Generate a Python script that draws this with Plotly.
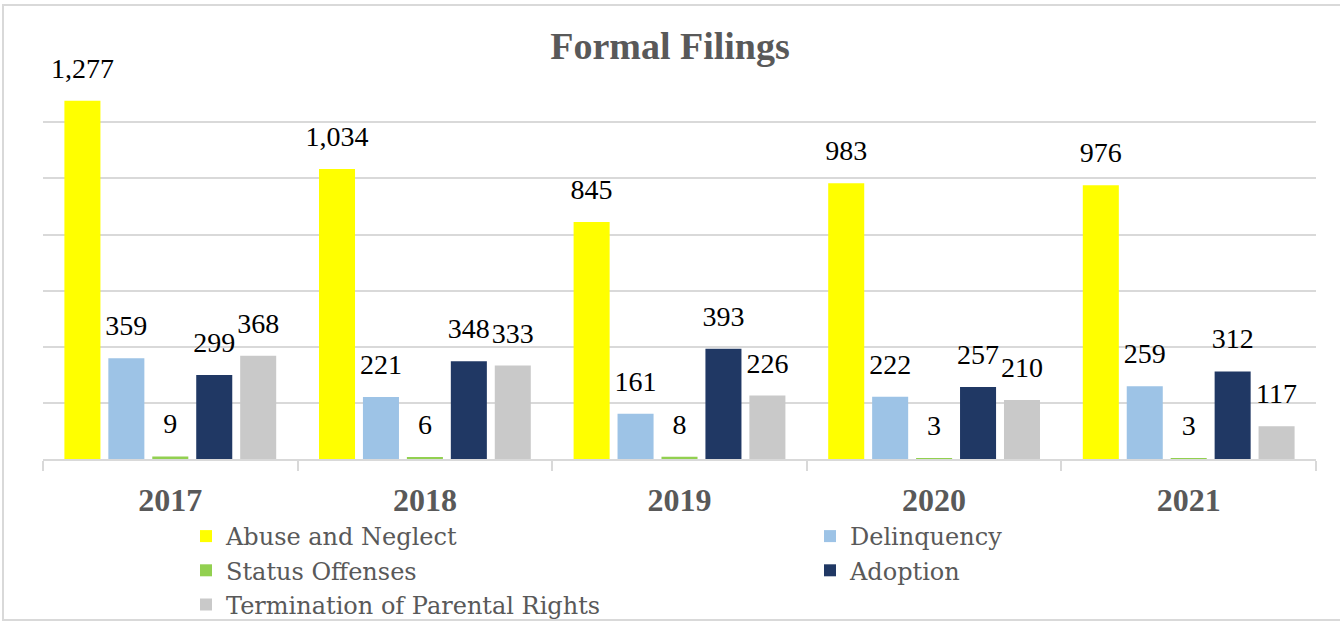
import plotly.graph_objects as go

years = ["2017", "2018", "2019", "2020", "2021"]
series_names = ["Abuse and Neglect", "Delinquency", "Status Offenses", "Adoption",
                "Termination of Parental Rights"]
abuse_neglect = [1277, 1034, 845, 983, 976]
delinquency = [359, 221, 161, 222, 259]
status_offenses = [9, 6, 8, 3, 3]
adoption = [299, 348, 393, 257, 312]
termination = [368, 333, 226, 210, 117]
series_values = [abuse_neglect, delinquency, status_offenses, adoption, termination]
colors = ["#FFFF00", "#9DC3E6", "#92D050", "#203864", "#C9C9C9"]
legend_ids = ["legend", "legend2", "legend", "legend2", "legend"]

FONT = "Liberation Serif"
W, H = 1340, 622
L, R, T, B = 43, 24, 69, 163
pw, ph = W - L - R, H - T - B
GAP = 0.137

fig = go.Figure()
for name, vals, col, lg in zip(series_names, series_values, colors, legend_ids):
    fig.add_trace(go.Bar(
        x=years, y=vals, name=name, legend=lg, offsetgroup=name,
        marker=dict(color=col, line=dict(width=0)),
        hoverinfo="x+y+name",
    ))
# data labels, aligned with the grouped bars
for name, vals in zip(series_names, series_values):
    fig.add_trace(go.Scatter(
        x=years, y=vals, mode="markers+text", showlegend=False,
        marker=dict(size=24, opacity=0),
        text=[f"{v:,}" for v in vals], textposition="top center",
        textfont=dict(family=FONT, size=28, color="#000000"),
        cliponaxis=False, hoverinfo="skip", offsetgroup=name,
    ))

# outer chart border (pixel -> paper conversion)
def px_x(x):
    return (x - L) / pw

def px_y(y):
    return (H - B - y) / ph

fig.add_shape(type="rect", xref="paper", yref="paper",
              x0=px_x(3), x1=px_x(W + 5), y0=px_y(620), y1=px_y(5),
              line=dict(color="#D9D9D9", width=2), fillcolor="rgba(0,0,0,0)", layer="below")

leg_common = dict(orientation="v", yanchor="top", y=px_y(514), xanchor="left",
                  font=dict(family="DejaVu Serif", size=24, color="#595959"),
                  traceorder="normal", itemwidth=30, tracegroupgap=0, borderwidth=0,
                  bgcolor="rgba(0,0,0,0)")

fig.update_layout(
    width=W, height=H,
    margin=dict(l=L, r=R, t=T, b=B, pad=0, autoexpand=False),
    paper_bgcolor="white", plot_bgcolor="white",
    barmode="group", bargap=GAP, bargroupgap=0.18,
    scattermode="group", scattergap=GAP,
    title=dict(text="<b>Formal Filings</b>", x=0.5, xanchor="center",
               y=1 - 46 / H, yanchor="middle", yref="container",
               font=dict(family=FONT, size=38, color="#595959")),
    xaxis=dict(showline=True, linecolor="#D9D9D9", linewidth=1.5,
               ticks="outside", tickson="boundaries", ticklen=10, tickcolor="#D9D9D9",
               tickwidth=1.5, showgrid=False, ticklabelstandoff=12,
               tickfont=dict(family=FONT, size=32, color="#595959"),
               tickprefix="<b>", ticksuffix="</b>"),
    yaxis=dict(range=[0, 1390], dtick=200, showticklabels=False, showgrid=True,
               gridcolor="#D9D9D9", gridwidth=1.5, zeroline=False, showline=False),
    legend=dict(x=px_x(186), **leg_common),
    legend2=dict(x=px_x(810), **leg_common),
    showlegend=True,
)

fig.write_html("out.html", config={"displayModeBar": False},
               post_script="document.body.style.margin='0';document.body.style.overflow='hidden';")
